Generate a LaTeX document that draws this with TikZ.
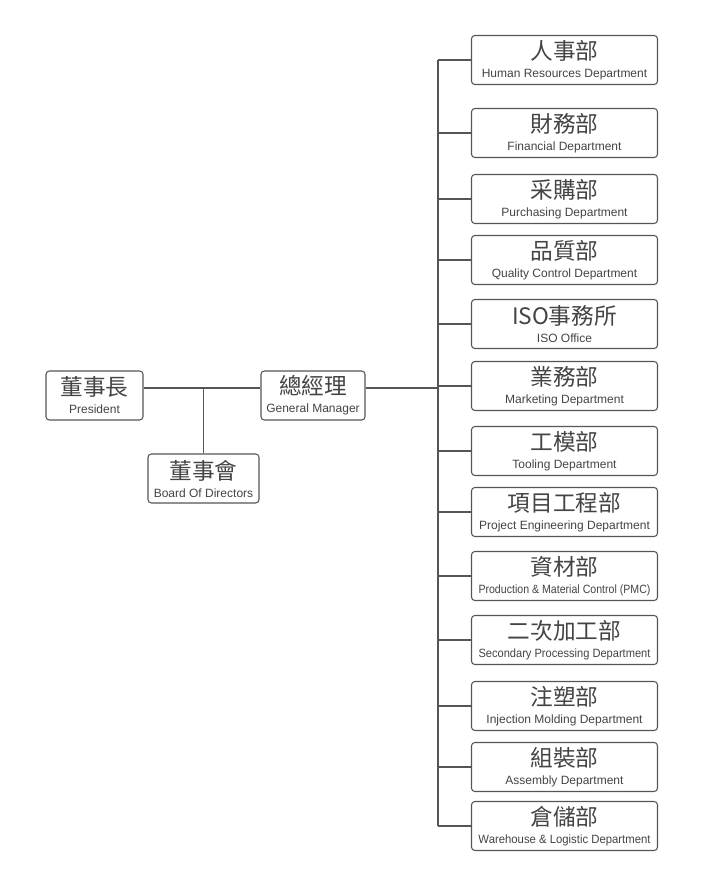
\documentclass[tikz,border=0pt]{standalone}
\usepackage{fontspec}
\setmainfont{Liberation Sans}
\newfontfamily\cjk{Noto Sans CJK TC}
\usepackage{xcolor}
\usepackage{graphicx}
\usetikzlibrary{positioning}

\definecolor{linegray}{HTML}{555555}
\definecolor{textgray}{HTML}{444444}
% squeeze an English line that is wider than the box allows
\newcommand\fitwidth[1]{\sbox0{#1}\ifdim\wd0>129pt\resizebox{129pt}{\height}{#1}\else#1\fi}

\begin{document}
\begin{tikzpicture}[x=0.75pt,y=-0.75pt,
  box/.style={draw=linegray,line width=0.8pt,rounded corners=2.5pt,fill=white,minimum height=36.75pt,
    align=center,inner sep=0pt,text=textgray,font=\fontsize{9}{13.5}\selectfont},
  dept/.style={box,minimum width=139.5pt},
  conn/.style={draw=linegray,line width=0.8pt}]
\useasboundingbox (0,0) rectangle (700,881);
% left part
\node[box,minimum width=72.75pt] (pres) at (94.5,395.5) {{\cjk\fontsize{17}{17}\selectfont 董事長}\\President};
\node[box,minimum width=78pt] (gm) at (313,395.5) {{\cjk\fontsize{17}{17}\selectfont 總經理}\\General Manager};
\node[box,minimum width=83.25pt] (board) at (203.5,478.5) {{\cjk\fontsize{17}{17}\selectfont 董事會}\\Board Of Directors};
\coordinate (mid) at (203.5,388);
\draw[conn] (pres.east |- mid) -- (gm.west |- mid);
\draw[conn] (mid) -- (board.north);
% departments
\coordinate (top) at (438,60);
\coordinate (bot) at (438,826);
\draw[conn] (gm.east |- mid) -- (top |- mid);
\draw[conn] (top) -- (bot);
\foreach \name/\y/\cn/\en in {
  hr/60/人事部/Human Resources Department,
  fin/133/財務部/Financial Department,
  pur/199/采購部/Purchasing Department,
  qc/260/品質部/Quality Control Department,
  iso/324/ISO事務所/ISO Office,
  mkt/386/業務部/Marketing Department,
  tool/451/工模部/Tooling Department,
  proj/512/項目工程部/Project Engineering Department,
  pmc/576/資材部/Production \& Material Control (PMC),
  sec/640/二次加工部/Secondary Processing Department,
  inj/706/注塑部/Injection Molding Department,
  asm/767/組裝部/Assembly Department,
  wh/826/倉儲部/Warehouse \& Logistic Department}{
  \node[dept] (\name) at (564.5,\y) {{\cjk\fontsize{17}{17}\selectfont \cn}\\\fitwidth{\en}};
  \draw[conn] (top |- \name.west) -- (\name.west);
}
\end{tikzpicture}
\end{document}
